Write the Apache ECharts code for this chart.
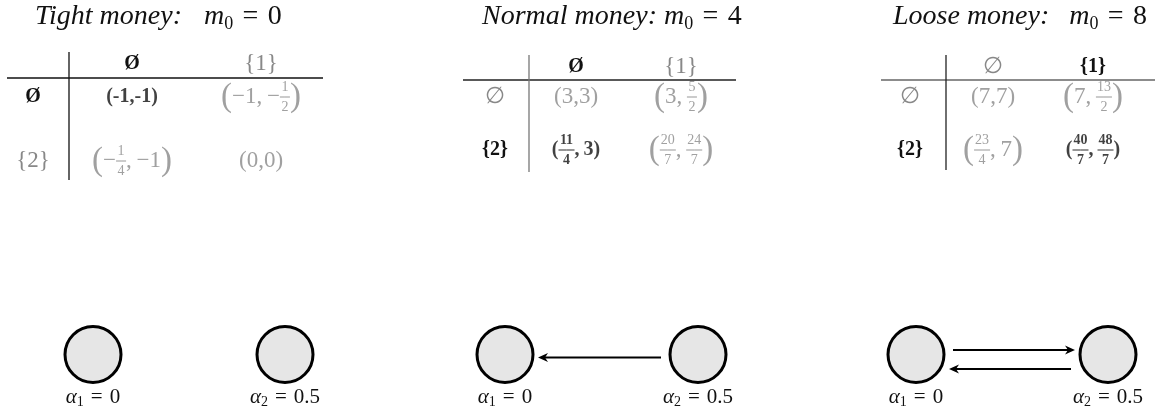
<!DOCTYPE html>
<html>
<head>
<meta charset="utf-8">
<script src="https://cdn.jsdelivr.net/npm/echarts@6/dist/echarts.min.js"></script>
<style>
  html, body { margin: 0; padding: 0; background: #fff; }
  #chart { width: 1155px; height: 409px; }
</style>
</head>
<body>
<div id="chart"></div>
<script>
// ---- data ----
const regimes = ['Tight money', 'Normal money', 'Loose money'];
const m0 = [0, 4, 8];
const colStrategies = ['∅', '{1}'];
const rowStrategies = ['∅', '{2}'];
// payoffs[row][col] = [player 1, player 2]
const payoffsTight = [[['-1', '-1'], ['-1', '-1/2']], [['-1/4', '-1'], ['0', '0']]];
const payoffsNormal = [[['3', '3'], ['3', '5/2']], [['11/4', '3'], ['20/7', '24/7']]];
const payoffsLoose = [[['7', '7'], ['7', '13/2']], [['23/4', '7'], ['40/7', '48/7']]];
const equilibria = [[0, 0], [1, 0], [1, 1]]; // [row, col] of the bold cell
const alphas = [0, 0.5];
const edgesTight = [];
const edgesNormal = [[1, 0]];
const edgesLoose = [[0, 1], [1, 0]];

const payoffs = [payoffsTight, payoffsNormal, payoffsLoose];
const edges = [edgesTight, edgesNormal, edgesLoose];

// ---- layout (pixels) ----
const LAYOUT = [
  { titleX: 35, gap: 22, v: 69, h: [7, 323, 78], vl: [52, 180], cols: [132, 261], rowX: 33, rows: [97, 161], headY: 64, nodes: [93, 285], hc: '#111', vc: '#111' },
  { titleX: 482, gap: 7, v: 529, h: [463, 736, 80], vl: [55, 172], cols: [576, 681], rowX: 495, rows: [97, 150], headY: 67, nodes: [505, 698], hc: '#222', vc: '#777' },
  { titleX: 893, gap: 20, v: 946, h: [881, 1155, 80], vl: [55, 170], cols: [993, 1093], rowX: 910, rows: [97, 150], headY: 67, nodes: [916, 1108], hc: '#666', vc: '#222' }
];
const NODE_Y = 354.5;
const GRAY = '#888';
const INK = '#111';
const SERIF = 'Liberation Serif';

// stacked fraction: half-width bars around zero-width numerator / denominator
function frac(n, d, st) {
  const L = Math.max(n.length, d.length);
  return '{h' + st + L + '|}{n' + st + '|' + n + '}{d' + st + '|' + d + '}{h' + st + L + '|}';
}
function num(s, bold) {
  const st = bold ? 'B' : 'G';
  const neg = s[0] === '-';
  const body = neg ? s.slice(1) : s;
  const minus = neg ? (bold ? '-' : '−') : '';
  if (body.indexOf('/') < 0) return '{' + st + '|' + minus + body + '}';
  const nd = body.split('/');
  return (minus ? '{' + st + '|' + minus + '}' : '') + frac(nd[0], nd[1], st);
}
function cellText(pair, bold) {
  const st = bold ? 'B' : 'G';
  const hasFrac = pair.some(v => v.indexOf('/') >= 0);
  const p = (hasFrac && !bold) ? 'PG' : st;
  return '{' + p + '|(}' + num(pair[0], bold) + '{' + st + '|,' + (hasFrac ? '\u2009' : '') + '}' +
    num(pair[1], bold) + '{' + p + '|)}';
}

function cellRich() {
  const r = {
    G: { fontFamily: SERIF, fontSize: 23, color: GRAY, lineHeight: 34 },
    B: { fontFamily: SERIF, fontSize: 20, fontWeight: 'bold', color: INK, lineHeight: 34 },
    PG: { fontFamily: SERIF, fontSize: 33, color: GRAY, lineHeight: 34 }
  };
  [['G', GRAY, 'normal'], ['B', INK, 'bold']].forEach(([st, col, w]) => {
    r['n' + st] = { fontFamily: SERIF, fontSize: 14, fontWeight: w, color: col, width: 0.01, verticalAlign: 'top', lineHeight: 17 };
    r['d' + st] = { fontFamily: SERIF, fontSize: 14, fontWeight: w, color: col, width: 0.01, verticalAlign: 'bottom', lineHeight: 17 };
    r['h' + st + '1'] = { width: 5, height: 1.1, backgroundColor: col };
    r['h' + st + '2'] = { width: 8, height: 1.1, backgroundColor: col };
  });
  return r;
}
const CELL_RICH = cellRich();

const headStyle = bold => Object.assign({ align: 'center', verticalAlign: 'middle', fontFamily: SERIF },
  bold ? { fontSize: 20, fontWeight: 'bold', color: INK } : { fontSize: 23, fontWeight: 'normal', color: GRAY });
const headText = (s, bold) => (bold && s === '∅') ? 'Ø' : s;

const title = [], grid = [], xAxis = [], yAxis = [], series = [], graphic = [];

regimes.forEach((name, i) => {
  const L = LAYOUT[i];
  const eq = equilibria[i];

  title.push({
    text: '{t|' + name + ':}{gap|}{m|m}{sub|0}{eq|\u2004=\u2004' + m0[i] + '}',
    left: L.titleX, top: 1, padding: 0,
    textStyle: {
      fontWeight: 'normal',
      rich: {
        t: { fontFamily: SERIF, fontStyle: 'italic', fontSize: 28, color: INK, lineHeight: 32 },
        gap: { width: L.gap, lineHeight: 32 },
        m: { fontFamily: SERIF, fontStyle: 'italic', fontSize: 28, color: INK, lineHeight: 32 },
        sub: { fontFamily: SERIF, fontSize: 18, color: INK, verticalAlign: 'bottom', lineHeight: 20 },
        eq: { fontFamily: SERIF, fontSize: 28, color: INK, lineHeight: 32 }
      }
    }
  });

  // payoff table grid
  const cb = L.cols[1] - L.cols[0], rb = L.rows[1] - L.rows[0];
  const gl = L.cols[0] - cb / 2, gt = L.rows[0] - rb / 2;
  grid.push({ left: gl, top: gt, width: 2 * cb, height: 2 * rb, containLabel: false });
  xAxis.push({
    gridIndex: i, type: 'category', position: 'top',
    data: colStrategies.map((s, c) => ({ value: headText(s, c === eq[1]), textStyle: headStyle(c === eq[1]) })),
    axisLine: { show: false }, axisTick: { show: false }, splitLine: { show: false },
    axisLabel: { margin: gt - L.headY, align: 'center', verticalAlign: 'middle', interval: 0 }
  });
  yAxis.push({
    gridIndex: i, type: 'category', inverse: true,
    data: rowStrategies.map((s, r) => ({ value: headText(s, r === eq[0]), textStyle: headStyle(r === eq[0]) })),
    axisLine: { show: false }, axisTick: { show: false }, splitLine: { show: false },
    axisLabel: { margin: gl - L.rowX, align: 'center', verticalAlign: 'middle', interval: 0 }
  });
  const cells = [];
  payoffs[i].forEach((row, r) => row.forEach((pair, c) => {
    const bold = r === eq[0] && c === eq[1];
    cells.push({ value: [c, r], text: cellText(pair, bold) });
  }));
  series.push({
    type: 'scatter', xAxisIndex: i, yAxisIndex: i, silent: true, symbolSize: 1,
    itemStyle: { color: 'rgba(0,0,0,0)' },
    label: { show: true, position: 'inside', textBorderWidth: 0, formatter: p => p.data.text, rich: CELL_RICH },
    data: cells
  });

  // table rules
  graphic.push({ type: 'line', silent: true, shape: { x1: L.h[0], y1: L.h[2], x2: L.h[1], y2: L.h[2] }, style: { stroke: L.hc, lineWidth: 1.3 } });
  graphic.push({ type: 'line', silent: true, shape: { x1: L.v, y1: L.vl[0], x2: L.v, y2: L.vl[1] }, style: { stroke: L.vc, lineWidth: 1.3 } });
});

// node diagrams
regimes.forEach((name, i) => {
  const L = LAYOUT[i];
  const gi = 3 + i;
  grid.push({ left: L.nodes[0], top: NODE_Y - 20, width: L.nodes[1] - L.nodes[0], height: 40 });
  xAxis.push({ gridIndex: gi, type: 'value', min: 0, max: 0.5, show: false });
  yAxis.push({ gridIndex: gi, type: 'value', min: -1, max: 1, show: false });
  series.push({
    type: 'scatter', xAxisIndex: gi, yAxisIndex: gi, silent: true, z: 3,
    symbol: 'circle', symbolSize: 56,
    itemStyle: { color: '#e6e6e6', borderColor: '#000', borderWidth: 3, opacity: 1 },
    label: {
      show: true, position: 'bottom', distance: 1,
      formatter: p => '{a|α}{s|' + (p.dataIndex + 1) + '}{t|\u2004=\u2004' + alphas[p.dataIndex] + '}',
      rich: {
        a: { fontFamily: SERIF, fontStyle: 'italic', fontSize: 21, color: INK, lineHeight: 24 },
        s: { fontFamily: SERIF, fontSize: 14, color: INK, verticalAlign: 'bottom', lineHeight: 16 },
        t: { fontFamily: SERIF, fontSize: 21, color: INK, lineHeight: 24 }
      }
    },
    data: alphas.map(a => [a, 0])
  });
  const E = edges[i];
  series.push({
    type: 'custom', xAxisIndex: gi, yAxisIndex: gi, silent: true, clip: false, z: 2,
    data: E.map(e => [alphas[e[0]], alphas[e[1]]]),
    renderItem: (params, api) => {
      const p1 = api.coord([api.value(0), 0]);
      const p2 = api.coord([api.value(1), 0]);
      const dir = p2[0] > p1[0] ? 1 : -1;
      const r = 30;
      const dy = E.length === 1 ? 3 : (dir > 0 ? -4.5 : 14.5);
      const y = p1[1] + dy;
      const xs = p1[0] + dir * (r + 7);
      const xt = p2[0] - dir * (r + 3);
      return {
        type: 'group',
        children: [
          { type: 'line', shape: { x1: xs, y1: y, x2: xt - dir * 6, y2: y }, style: { stroke: '#000', lineWidth: 1.8 } },
          { type: 'polygon', shape: { points: [[xt, y], [xt - dir * 10, y - 4.5], [xt - dir * 7, y], [xt - dir * 10, y + 4.5]] }, style: { fill: '#000' } }
        ]
      };
    }
  });
});

const chart = echarts.init(document.getElementById('chart'));
chart.setOption({
  animation: false,
  backgroundColor: '#fff',
  title: title,
  grid: grid,
  xAxis: xAxis,
  yAxis: yAxis,
  series: series,
  graphic: graphic
});
</script>
</body>
</html>
